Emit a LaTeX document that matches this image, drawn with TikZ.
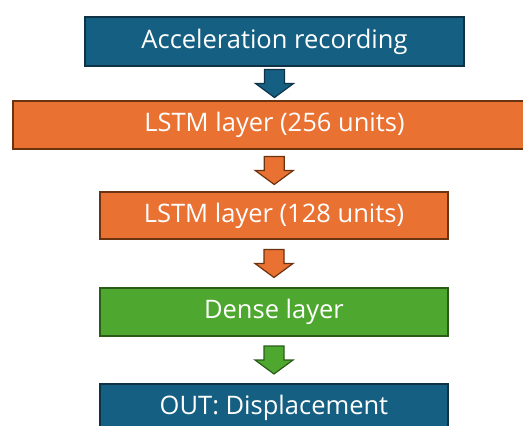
\documentclass[tikz,border=0pt]{standalone}
\usepackage{fontspec}
\setmainfont{Open Sans}
\usetikzlibrary{calc}

\definecolor{tealfill}{HTML}{156082}
\definecolor{tealline}{HTML}{0E3347}
\definecolor{orangefill}{HTML}{E97132}
\definecolor{orangeline}{HTML}{6B3310}
\definecolor{greenfill}{HTML}{4EA72E}
\definecolor{greenline}{HTML}{2A5C18}

\tikzset{
  layerbox/.style={rectangle, draw=#1line, fill=#1fill, line width=1.3pt,
    text=white, inner sep=0pt, font=\fontsize{25.5}{30}\selectfont},
  blockarrow/.style={draw=#1line, fill=#1fill, line width=1.2pt, line join=miter},
}

% block arrow drawn midway between two stacked boxes
\newcommand\downarrowbetween[3]{%
  \coordinate (m#1) at ($(#1.south)!0.5!(#2.north)$);
  \draw[blockarrow=#3]
    ([shift={(-10,-14)}]m#1) -- ([shift={(10,-14)}]m#1) --
    ([shift={(10,0)}]m#1) -- ([shift={(19,0)}]m#1) --
    ([shift={(0,14)}]m#1) -- ([shift={(-19,0)}]m#1) --
    ([shift={(-10,0)}]m#1) -- cycle;}

\begin{document}
\begin{tikzpicture}[x=1pt, y=-1pt]
  \useasboundingbox (0,0) rectangle (523,426);
  \clip (0,0) rectangle (523,426);

  \node[layerbox=teal, minimum width=379pt, minimum height=49pt] (acc) at (274.5,41.5) {Acceleration recording};
  \node[layerbox=orange, minimum width=523pt, minimum height=48pt] (l256) at (274.5,125) {LSTM layer (256 units)};
  \node[layerbox=orange, minimum width=348pt, minimum height=47pt] (l128) at (274,215.5) {LSTM layer (128 units)};
  \node[layerbox=green, minimum width=348pt, minimum height=48pt] (dense) at (274,312) {Dense layer};
  \node[layerbox=teal, minimum width=348pt, minimum height=48pt] (out) at (274,408) {OUT: Displacement};

  \downarrowbetween{acc}{l256}{teal}
  \downarrowbetween{l256}{l128}{orange}
  \downarrowbetween{l128}{dense}{orange}
  \downarrowbetween{dense}{out}{green}
\end{tikzpicture}
\end{document}
